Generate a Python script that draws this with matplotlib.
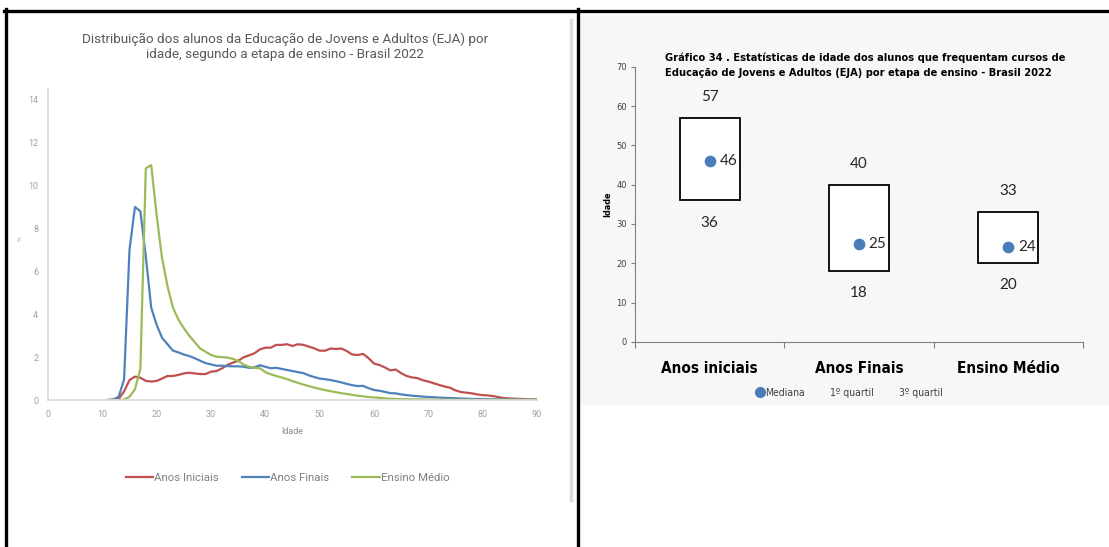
import matplotlib.pyplot as plt
from matplotlib.lines import Line2D
from matplotlib.patches import Rectangle

# ---- left chart: distribution by age (%), ages 11..90
idades = list(range(11, 91))
anos_iniciais = [0.0, 0.01, 0.05, 0.4, 0.93, 1.09, 1.04, 0.89, 0.86, 0.89,
                 1.0, 1.12, 1.12, 1.17, 1.24, 1.27, 1.24, 1.21, 1.21, 1.32,
                 1.35, 1.47, 1.63, 1.74, 1.83, 1.99, 2.08, 2.18, 2.36, 2.44,
                 2.44, 2.57, 2.57, 2.6, 2.52, 2.6, 2.57, 2.49, 2.41, 2.3,
                 2.3, 2.4, 2.38, 2.4, 2.28, 2.12, 2.1, 2.15, 1.95, 1.7,
                 1.63, 1.52, 1.38, 1.42, 1.25, 1.12, 1.05, 1.02, 0.92, 0.86,
                 0.78, 0.7, 0.63, 0.57, 0.45, 0.37, 0.34, 0.31, 0.26, 0.23,
                 0.21, 0.18, 0.13, 0.09, 0.07, 0.06, 0.05, 0.04, 0.03, 0.03]
anos_finais = [0.0, 0.02, 0.15, 0.95, 7.0, 9.0, 8.8, 6.7, 4.3, 3.5,
               2.9, 2.6, 2.3, 2.22, 2.12, 2.05, 1.95, 1.83, 1.72, 1.66,
               1.6, 1.6, 1.58, 1.57, 1.57, 1.55, 1.5, 1.52, 1.62, 1.55,
               1.48, 1.5, 1.45, 1.4, 1.35, 1.3, 1.25, 1.15, 1.07, 1.0,
               0.97, 0.93, 0.88, 0.82, 0.75, 0.69, 0.65, 0.66, 0.55, 0.47,
               0.43, 0.38, 0.32, 0.31, 0.26, 0.23, 0.2, 0.18, 0.16, 0.14,
               0.13, 0.11, 0.1, 0.09, 0.08, 0.07, 0.06, 0.05, 0.05, 0.04,
               0.04, 0.03, 0.03, 0.03, 0.02, 0.02, 0.02, 0.01, 0.01, 0.01]
ensino_medio = [0.0, 0.0, 0.0, 0.02, 0.15, 0.5, 1.45, 10.8, 10.95, 8.6,
                6.6, 5.3, 4.3, 3.75, 3.35, 3.0, 2.7, 2.4, 2.25, 2.1,
                2.02, 2.0, 1.98, 1.92, 1.82, 1.65, 1.55, 1.5, 1.48, 1.3,
                1.2, 1.12, 1.05, 0.97, 0.88, 0.8, 0.72, 0.65, 0.58, 0.52,
                0.46, 0.41, 0.36, 0.32, 0.28, 0.24, 0.2, 0.17, 0.14, 0.12,
                0.1, 0.08, 0.06, 0.05, 0.04, 0.04, 0.03, 0.03, 0.03, 0.02,
                0.02, 0.02, 0.02, 0.02, 0.01, 0.01, 0.01, 0.01, 0.01, 0.01,
                0.01, 0.01, 0.01, 0.01, 0.01, 0.01, 0.01, 0.01, 0.01, 0.01]

# ---- right chart: quartiles and median by stage
etapas = ['Anos iniciais', 'Anos Finais', 'Ensino Médio']
q1 = [36, 18, 20]
q3 = [57, 40, 33]
mediana = [46, 25, 24]

W, H = 1109, 547
fig = plt.figure(figsize=(W / 100, H / 100), dpi=100)
fig.patch.set_facecolor('white')

def fx(px):
    return px / W

def fy(py):
    return 1 - py / H

# panel background of right picture
fig.patches.append(Rectangle((fx(580), fy(405)), fx(1109) - fx(580), fy(15) - fy(405),
                             transform=fig.transFigure, facecolor='#f7f7f7',
                             edgecolor='none', zorder=-5))
# light gray edge of left picture
fig.add_artist(Line2D([fx(571), fx(571)], [fy(20), fy(500)], color='#dcdcdc', lw=2.5))
# black frame lines
fig.add_artist(Line2D([fx(4), fx(1109)], [fy(10.5), fy(10.5)], color='black', lw=2.4))
fig.add_artist(Line2D([fx(6), fx(6)], [fy(9), fy(547)], color='black', lw=2.4))
fig.add_artist(Line2D([fx(578), fx(578)], [fy(9), fy(547)], color='black', lw=2.4))

# ================= left chart =================
ax = fig.add_axes([fx(48), fy(400), fx(537) - fx(48), fy(89) - fy(400)])
gray = '#a0a0a0'
ax.plot(idades, anos_iniciais, color='#c0504d', lw=1.6, label='Anos Iniciais')
ax.plot(idades, anos_finais, color='#4f81bd', lw=1.6, label='Anos Finais')
ax.plot(idades, ensino_medio, color='#9bbb59', lw=1.6, label='Ensino Médio')
ax.set_xlim(0, 90)
ax.set_ylim(0, 14.5)
ax.set_xticks(range(0, 91, 10))
ax.set_yticks(range(0, 15, 2))
for s in ['top', 'right']:
    ax.spines[s].set_visible(False)
for s in ['left', 'bottom']:
    ax.spines[s].set_color('#d9d9d9')
    ax.spines[s].set_linewidth(1.2)
ax.tick_params(length=0, labelsize=6.5, labelcolor=gray, pad=7)
for lab in ax.get_xticklabels() + ax.get_yticklabels():
    lab.set_family('Roboto')
ax.set_xlabel('Idade', fontsize=6.5, color='#909090', family='Roboto', labelpad=6)
ax.legend(loc='center', bbox_to_anchor=(0.49, -0.25), ncol=3, frameon=False,
          handlelength=2.4, handletextpad=0.1, columnspacing=2.0,
          prop={'family': 'Roboto', 'size': 8.2}, labelcolor='#808080')
fig.text(fx(20), fy(238), '%', rotation=90, fontsize=4, color=gray,
         ha='center', va='center')
fig.text(fx(285), fy(47),
         'Distribuição dos alunos da Educação de Jovens e Adultos (EJA) por\n'
         'idade, segundo a etapa de ensino - Brasil 2022',
         ha='center', va='center', fontsize=9.7, color='#595959',
         family='Roboto', linespacing=1.25)

# ================= right chart =================
narrow = 'DejaVu Sans'
bx = fig.add_axes([fx(635), fy(341.8), fx(1083) - fx(635), fy(66.7) - fy(341.8)])
bx.set_facecolor('none')
pos = [0.5, 1.5, 2.5]
bx.bar(pos, [b - a for a, b in zip(q1, q3)], bottom=q1, width=0.4,
       facecolor='white', edgecolor='black', linewidth=1.3, zorder=2)
bx.scatter(pos, mediana, s=55, color='#4a7ebb', zorder=3, label='Mediana')
for p, a, b, m in zip(pos, q1, q3, mediana):
    bx.annotate(str(b), (p, b), xytext=(0, 10), textcoords='offset points',
                ha='center', va='bottom', fontsize=11, family='Lato', color='#262626')
    bx.annotate(str(a), (p, a), xytext=(0, -11), textcoords='offset points',
                ha='center', va='top', fontsize=11, family='Lato', color='#262626')
    bx.annotate(str(m), (p, m), xytext=(7, 0), textcoords='offset points',
                ha='left', va='center', fontsize=11, family='Lato', color='#262626')
bx.set_xlim(0, 3)
bx.set_ylim(0, 70)
bx.set_yticks(range(0, 71, 10))
bx.set_xticks([0, 1, 2, 3])
bx.set_xticklabels([])
bx.set_xticks(pos, minor=True)
bx.set_xticklabels(etapas, minor=True)
bx.tick_params(axis='x', which='minor', length=0, pad=14, labelsize=11)
bx.tick_params(axis='x', which='major', length=4, color='#7f7f7f', direction='out')
bx.tick_params(axis='y', length=3, color='#7f7f7f', labelsize=6, labelcolor='#404040', pad=3)
for lab in bx.get_xticklabels(minor=True):
    lab.set_family(narrow)
    lab.set_fontstretch('condensed')
    lab.set_fontweight('bold')
for lab in bx.get_yticklabels():
    lab.set_family(narrow)
for s in ['top', 'right']:
    bx.spines[s].set_visible(False)
for s in ['left', 'bottom']:
    bx.spines[s].set_color('#7f7f7f')
bx.set_ylabel('Idade', fontsize=6.5, fontweight='bold', family=narrow,
              fontstretch='condensed', labelpad=3)

handles = [Line2D([], [], marker='o', color='#4a7ebb', lw=0, markersize=7),
           Line2D([], [], lw=0), Line2D([], [], lw=0)]
bx.legend(handles, ['Mediana', '1º quartil', '3º quartil'], loc='center',
          bbox_to_anchor=(0.48, -0.185), ncol=3, frameon=False,
          handlelength=0.6, handletextpad=0.2, columnspacing=1.6,
          prop={'family': narrow, 'size': 7.5, 'stretch': 'condensed'},
          labelcolor='#404040')
fig.text(fx(665), fy(65),
         'Gráfico 34 . Estatísticas de idade dos alunos que frequentam cursos de\n'
         'Educação de Jovens e Adultos (EJA) por etapa de ensino - Brasil 2022',
         ha='left', va='center', fontsize=7.9, fontweight='bold',
         family=narrow, fontstretch='condensed', linespacing=1.6)

fig.savefig('out.png', dpi=100)
